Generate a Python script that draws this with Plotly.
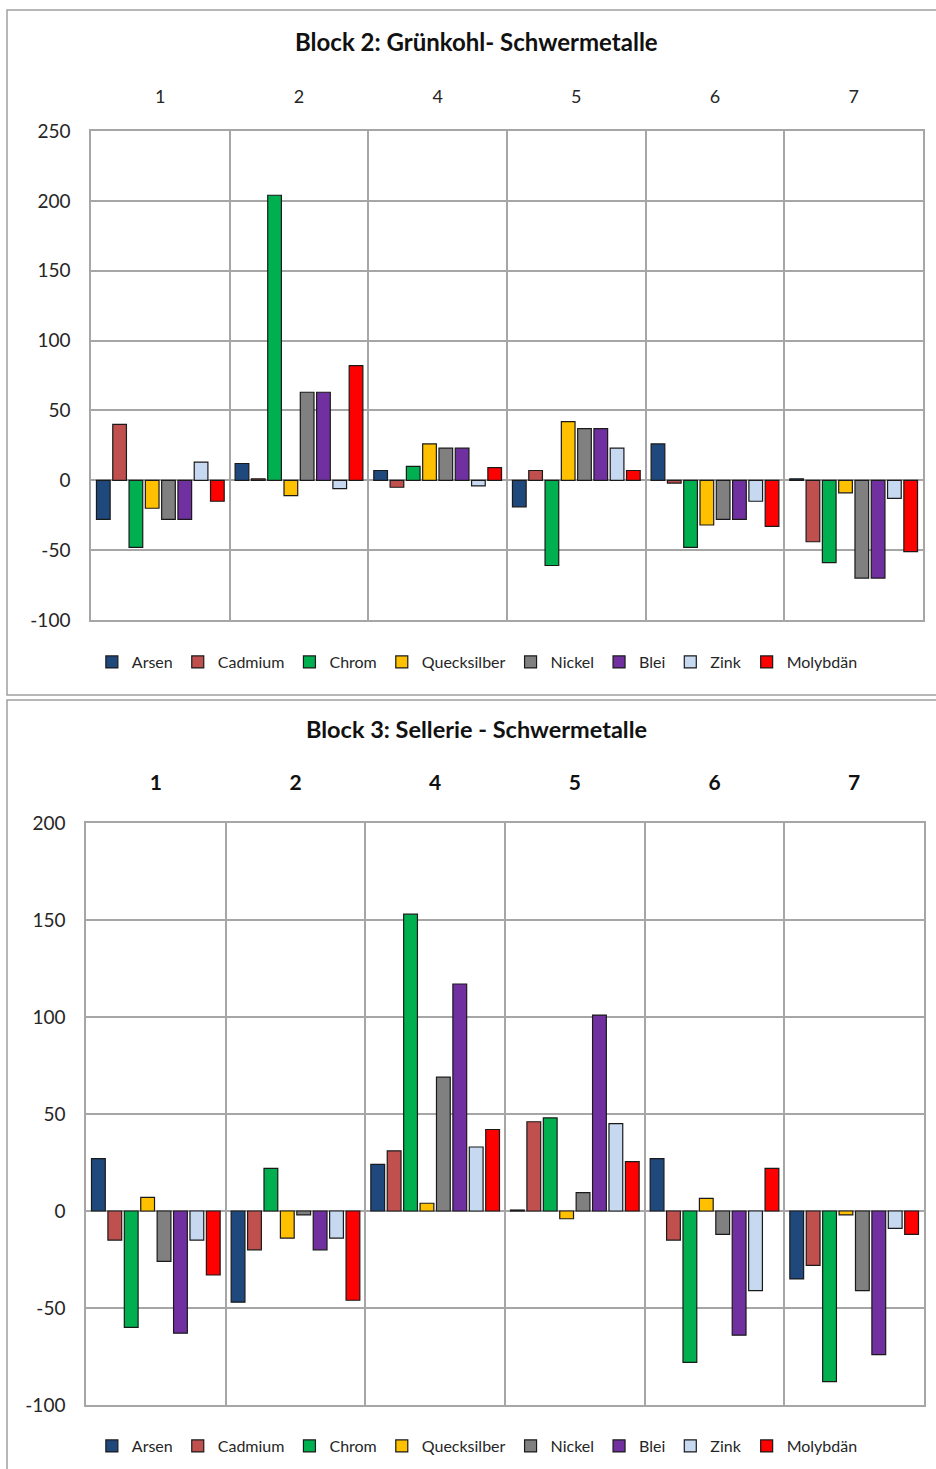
import plotly.graph_objects as go

# Versuchsglieder (Kategorien) und Schwermetalle
categories = ["1", "2", "4", "5", "6", "7"]
metals = ["Arsen", "Cadmium", "Chrom", "Quecksilber", "Nickel", "Blei", "Zink", "Molybdän"]
colors = ["#1F497D", "#C0504D", "#00B050", "#FFC000", "#808080", "#7030A0", "#C6D9F1", "#FF0000"]

# Block 2: Grünkohl
gk_arsen = [-28, 12, 7, -19, 26, 1]
gk_cadmium = [40, 1, -5, 7, -2, -44]
gk_chrom = [-48, 204, 10, -61, -48, -59]
gk_quecksilber = [-20, -11, 26, 42, -32, -9]
gk_nickel = [-28, 63, 23, 37, -28, -70]
gk_blei = [-28, 63, 23, 37, -28, -70]
gk_zink = [13, -6, -4, 23, -15, -13]
gk_molybdaen = [-15, 82, 9, 7, -33, -51]

# Block 3: Sellerie
se_arsen = [27, -47, 24, 0.5, 27, -35]
se_cadmium = [-15, -20, 31, 46, -15, -28]
se_chrom = [-60, 22, 153, 48, -78, -88]
se_quecksilber = [7, -14, 4, -4, 6.5, -2]
se_nickel = [-26, -2, 69, 9.5, -12, -41]
se_blei = [-63, -20, 117, 101, -64, -74]
se_zink = [-15, -14, 33, 45, -41, -9]
se_molybdaen = [-33, -46, 42, 25.5, 22, -12]

# y-Achsenbeschriftung
gk_yticks = [-100, -50, 0, 50, 100, 150, 200, 250]
se_yticks = [-100, -50, 0, 50, 100, 150, 200]

gruenkohl = [gk_arsen, gk_cadmium, gk_chrom, gk_quecksilber, gk_nickel, gk_blei, gk_zink, gk_molybdaen]
sellerie = [se_arsen, se_cadmium, se_chrom, se_quecksilber, se_nickel, se_blei, se_zink, se_molybdaen]

FONT = "Lato"
GRID = "#A6A6A6"
W, H = 936, 1469

xpos = list(range(len(categories)))
bounds = [i + 0.5 for i in xpos[:-1]]

fig = go.Figure()

for name, col, vals in zip(metals, colors, gruenkohl):
    fig.add_trace(go.Bar(x=xpos, y=vals, name=name, marker=dict(color=col, line=dict(color="#1a1a1a", width=1.2)),
                         xaxis="x", yaxis="y", legend="legend"))
for name, col, vals in zip(metals, colors, sellerie):
    fig.add_trace(go.Bar(x=xpos, y=vals, name=name, marker=dict(color=col, line=dict(color="#1a1a1a", width=1.2)),
                         xaxis="x2", yaxis="y2", legend="legend2"))


def px_y(p):
    return 1 - p / H


def px_x(p):
    return p / W


def xaxis_cfg(domain, anchor, font, standoff):
    return dict(domain=domain, anchor=anchor, side="top", range=[-0.5, len(categories) - 0.5],
                tickmode="array", tickvals=xpos, ticktext=categories, ticks="", showgrid=False,
                zeroline=False, showline=True, mirror=True, linecolor=GRID, linewidth=1.5,
                tickfont=font, ticklabelstandoff=standoff, fixedrange=True, automargin=False,
                minor=dict(tickmode="array", tickvals=bounds, showgrid=True, gridcolor=GRID, gridwidth=1.5, ticks=""))


def yaxis_cfg(domain, anchor, ticks):
    return dict(domain=domain, anchor=anchor, range=[ticks[0], ticks[-1]], tickmode="array",
                tickvals=ticks, ticktext=[str(t) for t in ticks], showgrid=True, gridcolor=GRID,
                gridwidth=1.5, zeroline=False, showline=True, mirror=True, linecolor=GRID, linewidth=1.5,
                ticks="", ticklabelstandoff=15, tickfont=dict(family=FONT, size=19, color="#262626"),
                fixedrange=True, automargin=False)


legend_common = dict(orientation="h", xanchor="center", yanchor="middle", bgcolor="rgba(0,0,0,0)",
                     font=dict(family=FONT, size=16, color="#262626"), itemwidth=30, traceorder="normal",
                     itemclick=False, itemdoubleclick=False)

fig.update_layout(
    template="none",
    width=W, height=H, margin=dict(l=0, r=0, t=0, b=0, autoexpand=False),
    paper_bgcolor="white", plot_bgcolor="white",
    barmode="group", bargap=0.06, bargroupgap=0.16,
    font=dict(family=FONT),
    xaxis=xaxis_cfg([px_x(91), px_x(923)], "y", dict(family=FONT, size=18, color="#262626"), 19),
    yaxis=yaxis_cfg([px_y(620), px_y(131)], "x", gk_yticks),
    xaxis2=xaxis_cfg([px_x(86), px_x(924)], "y2", dict(family=FONT, size=21, color="#111111", weight="bold"), 23),
    yaxis2=yaxis_cfg([px_y(1405), px_y(823)], "x2", se_yticks),
    legend=dict(x=0.51, y=px_y(662), **legend_common),
    legend2=dict(x=0.51, y=px_y(1446), **legend_common),
    annotations=[
        dict(text="<b>Block 2: Grünkohl- Schwermetalle</b>", x=px_x(477), y=px_y(42), xref="paper", yref="paper",
             showarrow=False, xanchor="center", yanchor="middle", font=dict(family=FONT, size=24, color="#111111")),
        dict(text="<b>Block 3: Sellerie - Schwermetalle</b>", x=px_x(476), y=px_y(729), xref="paper", yref="paper",
             showarrow=False, xanchor="center", yanchor="middle", font=dict(family=FONT, size=23.5, color="#111111")),
    ],
    shapes=[
        dict(type="rect", xref="paper", yref="paper", x0=px_x(7), x1=1.01, y0=px_y(695), y1=px_y(10),
             line=dict(color="#A0A0A0", width=1.5), layer="below"),
        dict(type="rect", xref="paper", yref="paper", x0=px_x(7), x1=1.01, y0=-0.01, y1=px_y(700),
             line=dict(color="#A0A0A0", width=1.5), layer="below"),
    ],
    showlegend=True,
)

fig.write_html("out.html")
